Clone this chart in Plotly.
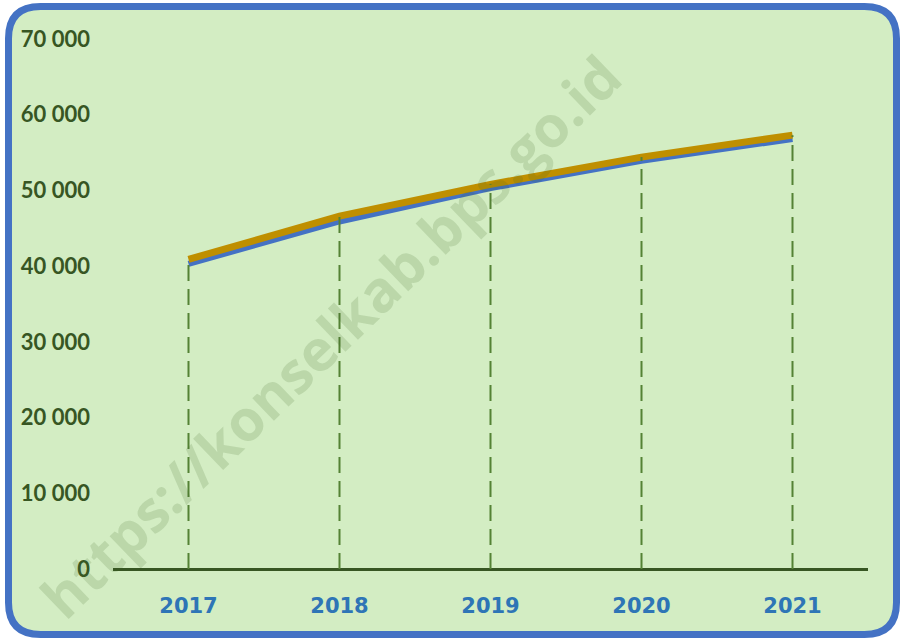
import plotly.graph_objects as go

years = ["2017", "2018", "2019", "2020", "2021"]
series_gold = [40900, 46600, 50800, 54400, 57300]
series_blue = [40300, 45900, 50300, 53900, 56800]
y_tick_vals = [0, 10000, 20000, 30000, 40000, 50000, 60000, 70000]
y_tick_text = ["0", "10 000", "20 000", "30 000", "40 000", "50 000", "60 000", "70 000"]
watermark = "https://konselkab.bps.go.id"

W, H = 901, 638
ML, MR, MT, MB = 113, 33, 39, 69
pw, ph = W - ML - MR, H - MT - MB

def px(x):
    return (x - ML) / pw

def py(y):
    return (H - MB - y) / ph

def rounded_rect(x0, y0, x1, y1, r):
    pts = [
        ("M", [(x0 + r, y0)]),
        ("L", [(x1 - r, y0)]),
        ("Q", [(x1, y0), (x1, y0 + r)]),
        ("L", [(x1, y1 - r)]),
        ("Q", [(x1, y1), (x1 - r, y1)]),
        ("L", [(x0 + r, y1)]),
        ("Q", [(x0, y1), (x0, y1 - r)]),
        ("L", [(x0, y0 + r)]),
        ("Q", [(x0, y0), (x0 + r, y0)]),
    ]
    s = ""
    for cmd, ps in pts:
        s += cmd + " " + " ".join(f"{px(a):.5f},{py(b):.5f}" for a, b in ps) + " "
    return s + "Z"

fig = go.Figure()

fig.add_trace(go.Scatter(x=years, y=series_blue, mode="lines",
                         line=dict(color="#4472C4", width=6), hoverinfo="skip",
                         showlegend=False))
fig.add_trace(go.Scatter(x=years, y=series_gold, mode="lines",
                         line=dict(color="#BF8F00", width=7), hoverinfo="skip",
                         showlegend=False))

dx, dy = [], []
for yr, v in zip(years, series_gold):
    dx += [yr, yr, None]
    dy += [0, v, None]
fig.add_trace(go.Scatter(x=dx, y=dy, mode="lines",
                         line=dict(color="#548235", width=2, dash="16px,8px"),
                         hoverinfo="skip", showlegend=False))

fig.add_shape(type="path", xref="paper", yref="paper",
              path=rounded_rect(8.5, 6.5, 896.5, 634.5, 32),
              fillcolor="#D3EDC3", line=dict(color="#4472C4", width=7),
              layer="below")

fig.add_annotation(text=watermark, xref="paper", yref="paper",
                   x=px(330), y=py(336), xanchor="center", yanchor="middle",
                   showarrow=False, textangle=-44,
                   font=dict(family="Open Sans", size=57, color="rgba(60,100,40,0.16)",
                             weight="bold"))

fig.update_layout(
    width=W, height=H,
    margin=dict(l=ML, r=MR, t=MT, b=MB),
    paper_bgcolor="white",
    plot_bgcolor="rgba(0,0,0,0)",
    xaxis=dict(type="category", range=[-0.5, 4.5], showgrid=False, zeroline=False,
               showline=False, ticks="", ticklabelstandoff=22,
               tickfont=dict(family="DejaVu Sans", size=21, color="#2E75B6", weight="bold")),
    yaxis=dict(range=[0, 70000], tickvals=y_tick_vals, ticktext=y_tick_text,
               showgrid=False, zeroline=True, zerolinecolor="#375623", zerolinewidth=2.5,
               showline=False, ticks="", ticklabelstandoff=22,
               tickfont=dict(family="Lato", size=22, color="#375623", weight="bold")),
)

fig.write_html("out.html", config={"displayModeBar": False},
               post_script="document.body.style.margin='0';document.body.style.overflow='hidden';")
